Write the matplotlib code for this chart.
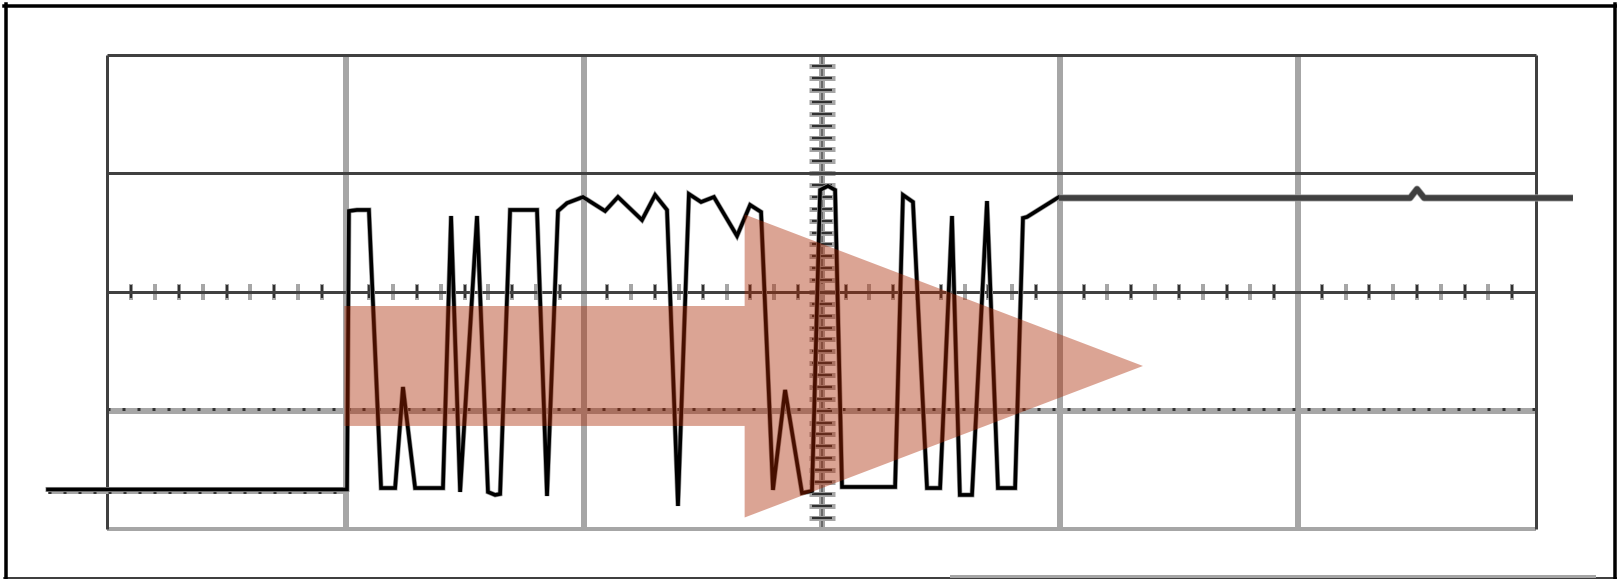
import numpy as np
import matplotlib
matplotlib.use('Agg')
from matplotlib import pyplot as plt
from matplotlib.patches import Polygon
from matplotlib.lines import Line2D

W, H, DPI = 1617, 579, 100
PX = 72.0 / DPI  # one pixel in points

DARK = '#404040'
GRAY = '#a6a6a6'

# scope screen: 6 x 4 divisions, minor marks every 0.1 div
n_xdiv = 6
n_ydiv = 4
minor = 0.1

# captured trace, in divisions (x from left edge, y from bottom edge)
trace_x = [-0.250, 1.006, 1.014, 1.048, 1.098, 1.149, 1.208, 1.241, 1.292, 1.409,
           1.443, 1.481, 1.552, 1.598, 1.628, 1.649, 1.691, 1.804, 1.846, 1.892,
           1.930, 1.997, 2.090, 2.144, 2.245, 2.300, 2.350, 2.396, 2.442, 2.493,
           2.547, 2.644, 2.699, 2.745, 2.795, 2.846, 2.917, 2.959, 2.993, 3.026,
           3.056, 3.085, 3.308, 3.341, 3.383, 3.442, 3.497, 3.547, 3.580, 3.631,
           3.694, 3.740, 3.812, 3.845, 3.862, 3.996]
trace_y = [0.337, 0.337, 2.682, 2.691, 2.691, 0.349, 0.349, 1.200, 0.349, 0.349,
           2.640, 0.316, 2.640, 0.316, 0.291, 0.299, 2.691, 2.691, 0.282, 2.682,
           2.749, 2.800, 2.682, 2.800, 2.606, 2.817, 2.691, 0.198, 2.825, 2.758,
           2.800, 2.472, 2.733, 2.674, 0.333, 1.175, 0.307, 0.324, 2.859, 2.893,
           2.859, 0.358, 0.358, 2.817, 2.758, 0.349, 0.349, 2.640, 0.291, 0.291,
           2.766, 0.349, 0.349, 2.623, 2.632, 2.800]

# settled part of the trace (drawn heavier)
tail_x = [3.996, 5.471, 5.500, 5.530, 6.155]
tail_y = [2.792, 2.792, 2.867, 2.792, 2.792]

# ground reference marker at the left
ground_x = [-0.250, 1.006]
ground_y = 0.318

# arrow overlay: band from tail_start to head_base, head ends at tip
arrow_tail = 0.995
arrow_head = 2.676
arrow_tip = 4.349
arrow_mid = 1.377
band_half = 0.505
head_half = 1.276

fig = plt.figure(figsize=(W / DPI, H / DPI), dpi=DPI)
ax = fig.add_axes([0, 0, 1, 1])
ax.set_xlim(-0.4515, 6.340)
ax.set_ylim(-0.417, 4.459)
ax.axis('off')

# graticule
inner = np.arange(1, n_xdiv)
ax.vlines(inner, 0, n_ydiv, color=GRAY, lw=6 * PX)
ax.vlines(n_xdiv / 2, 0, n_ydiv, color='#6a6a6a', lw=2 * PX)
ax.hlines(0, 0, n_xdiv, color=GRAY, lw=4 * PX)
ax.hlines(1, 0, n_xdiv, color=GRAY, lw=6 * PX)
ax.plot([0, n_xdiv], [1.015, 1.015], color='#333333', lw=3 * PX, dashes=[1, 4])

ladder = np.arange(1, n_ydiv * 10) * minor
ax.hlines(ladder, n_xdiv / 2 - 0.055, n_xdiv / 2 + 0.055, color=GRAY, lw=5 * PX)
ax.hlines(ladder, n_xdiv / 2 - 0.042, n_xdiv / 2 + 0.042, color='#303030', lw=2.2 * PX)
ticks = np.arange(1, n_xdiv * 10) * minor
ax.vlines(ticks, 2 - 0.065, 2 + 0.07, color=GRAY, lw=4 * PX)
ax.vlines(ticks[::2], 2 - 0.05, 2 + 0.06, color='#303030', lw=2.2 * PX)

ax.hlines([2, 3, 4], 0, n_xdiv, color=DARK, lw=3 * PX)
ax.vlines([0, n_xdiv], 0, n_ydiv, color=DARK, lw=3 * PX)

# ground marker
ax.hlines(ground_y, ground_x[0], ground_x[1], color=GRAY, lw=4 * PX)
ax.plot(ground_x, [ground_y, ground_y], color='#333333', lw=3 * PX, dashes=[1, 4])

# trace
ax.plot(trace_x, trace_y, color='#9a9a9a', lw=5 * PX, solid_joinstyle='miter')
ax.plot(trace_x, trace_y, color='black', lw=3.6 * PX, solid_joinstyle='miter')
ax.plot(tail_x, tail_y, color='#a0a0a0', lw=7 * PX, solid_capstyle='butt')
ax.plot(tail_x, tail_y, color=DARK, lw=5.5 * PX, solid_capstyle='butt')

# arrow overlay
arrow = [(arrow_tail, arrow_mid - band_half), (arrow_head, arrow_mid - band_half),
         (arrow_head, arrow_mid - head_half), (arrow_tip, arrow_mid),
         (arrow_head, arrow_mid + head_half), (arrow_head, arrow_mid + band_half),
         (arrow_tail, arrow_mid + band_half)]
ax.add_patch(Polygon(arrow, closed=True, facecolor='#ab2600', alpha=0.42,
                     edgecolor='none', zorder=5))

# outer frame
def fx(px):
    return px / W

def fy(py):
    return 1 - py / H

fig.add_artist(Line2D([fx(4), fx(1617)], [fy(5.5), fy(5.5)], color='black', lw=3.5 * PX))
fig.add_artist(Line2D([fx(5.5), fx(5.5)], [fy(4), fy(579)], color='black', lw=3.5 * PX))
fig.add_artist(Line2D([fx(1615), fx(1615)], [fy(4), fy(579)], color='black', lw=3.5 * PX))
fig.add_artist(Line2D([fx(4), fx(1617)], [fy(578.3), fy(578.3)], color='black', lw=1.5 * PX))
fig.add_artist(Line2D([fx(951), fx(1594)], [fy(575.5), fy(575.5)], color=GRAY, lw=3 * PX))

plt.savefig('out.png', dpi=DPI)
